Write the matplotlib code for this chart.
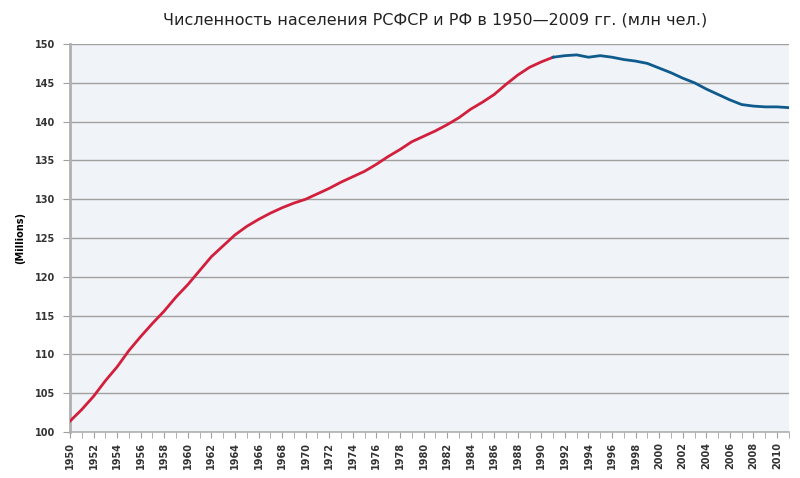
import matplotlib.pyplot as plt
from matplotlib.ticker import MultipleLocator

years_rsfsr = [1950, 1951, 1952, 1953, 1954, 1955, 1956, 1957, 1958, 1959,
               1960, 1961, 1962, 1963, 1964, 1965, 1966, 1967, 1968, 1969,
               1970, 1971, 1972, 1973, 1974, 1975, 1976, 1977, 1978, 1979,
               1980, 1981, 1982, 1983, 1984, 1985, 1986, 1987, 1988, 1989,
               1990, 1991]
pop_rsfsr = [101.4, 102.9, 104.6, 106.6, 108.4, 110.5, 112.3, 114.0, 115.6, 117.4,
             119.0, 120.8, 122.6, 124.0, 125.4, 126.5, 127.4, 128.2, 128.9, 129.5,
             130.0, 130.7, 131.4, 132.2, 132.9, 133.6, 134.5, 135.5, 136.4, 137.4,
             138.1, 138.8, 139.6, 140.5, 141.6, 142.5, 143.5, 144.8, 146.0, 147.0,
             147.7, 148.3]

years_rf = [1991, 1992, 1993, 1994, 1995, 1996, 1997, 1998, 1999, 2000,
            2001, 2002, 2003, 2004, 2005, 2006, 2007, 2008, 2009, 2010, 2011]
pop_rf = [148.3, 148.5, 148.6, 148.3, 148.5, 148.3, 148.0, 147.8, 147.5, 146.9,
          146.3, 145.6, 145.0, 144.2, 143.5, 142.8, 142.2, 142.0, 141.9, 141.9, 141.8]

fig = plt.figure(figsize=(8, 4.78), dpi=100)
ax = fig.add_axes([0.0875, 0.0962, 0.8985, 0.8117])
ax.set_facecolor('#f0f3f8')

ax.plot(years_rsfsr, pop_rsfsr, color='#d21f3c', linewidth=2, zorder=3)
ax.plot(years_rf, pop_rf, color='#0f5b8d', linewidth=2, zorder=3)

ax.set_xlim(1950, 2011)
ax.set_ylim(100, 150)
ax.yaxis.set_major_locator(MultipleLocator(5))
ax.xaxis.set_major_locator(MultipleLocator(2))
ax.xaxis.set_minor_locator(MultipleLocator(1))
ax.grid(axis='y', color='#a0a0a0', linewidth=1)
ax.set_axisbelow(True)

for side in ['top', 'right']:
    ax.spines[side].set_visible(False)
ax.spines['left'].set_color('#b0b0b0')
ax.spines['left'].set_linewidth(2)
ax.spines['bottom'].set_color('#b0b0b0')
ax.spines['bottom'].set_linewidth(1.2)

ax.tick_params(axis='y', length=5, color='#a0a0a0', labelsize=7, pad=6)
ax.tick_params(axis='x', which='both', length=4, color='#a0a0a0',
               labelsize=7, labelrotation=90, pad=3)
for lbl in ax.get_xticklabels() + ax.get_yticklabels():
    lbl.set_fontweight('bold')
    lbl.set_color('#333333')

ax.set_ylabel('(Millions)', fontsize=7, fontweight='bold')
ax.yaxis.set_label_coords(-0.063, 0.5)
fig.text(0.544, 0.958, 'Численность населения РСФСР и РФ в 1950—2009 гг. (млн чел.)',
         ha='center', va='center', fontsize=11.5, color='#222222')

fig.savefig('out.png', dpi=100)
